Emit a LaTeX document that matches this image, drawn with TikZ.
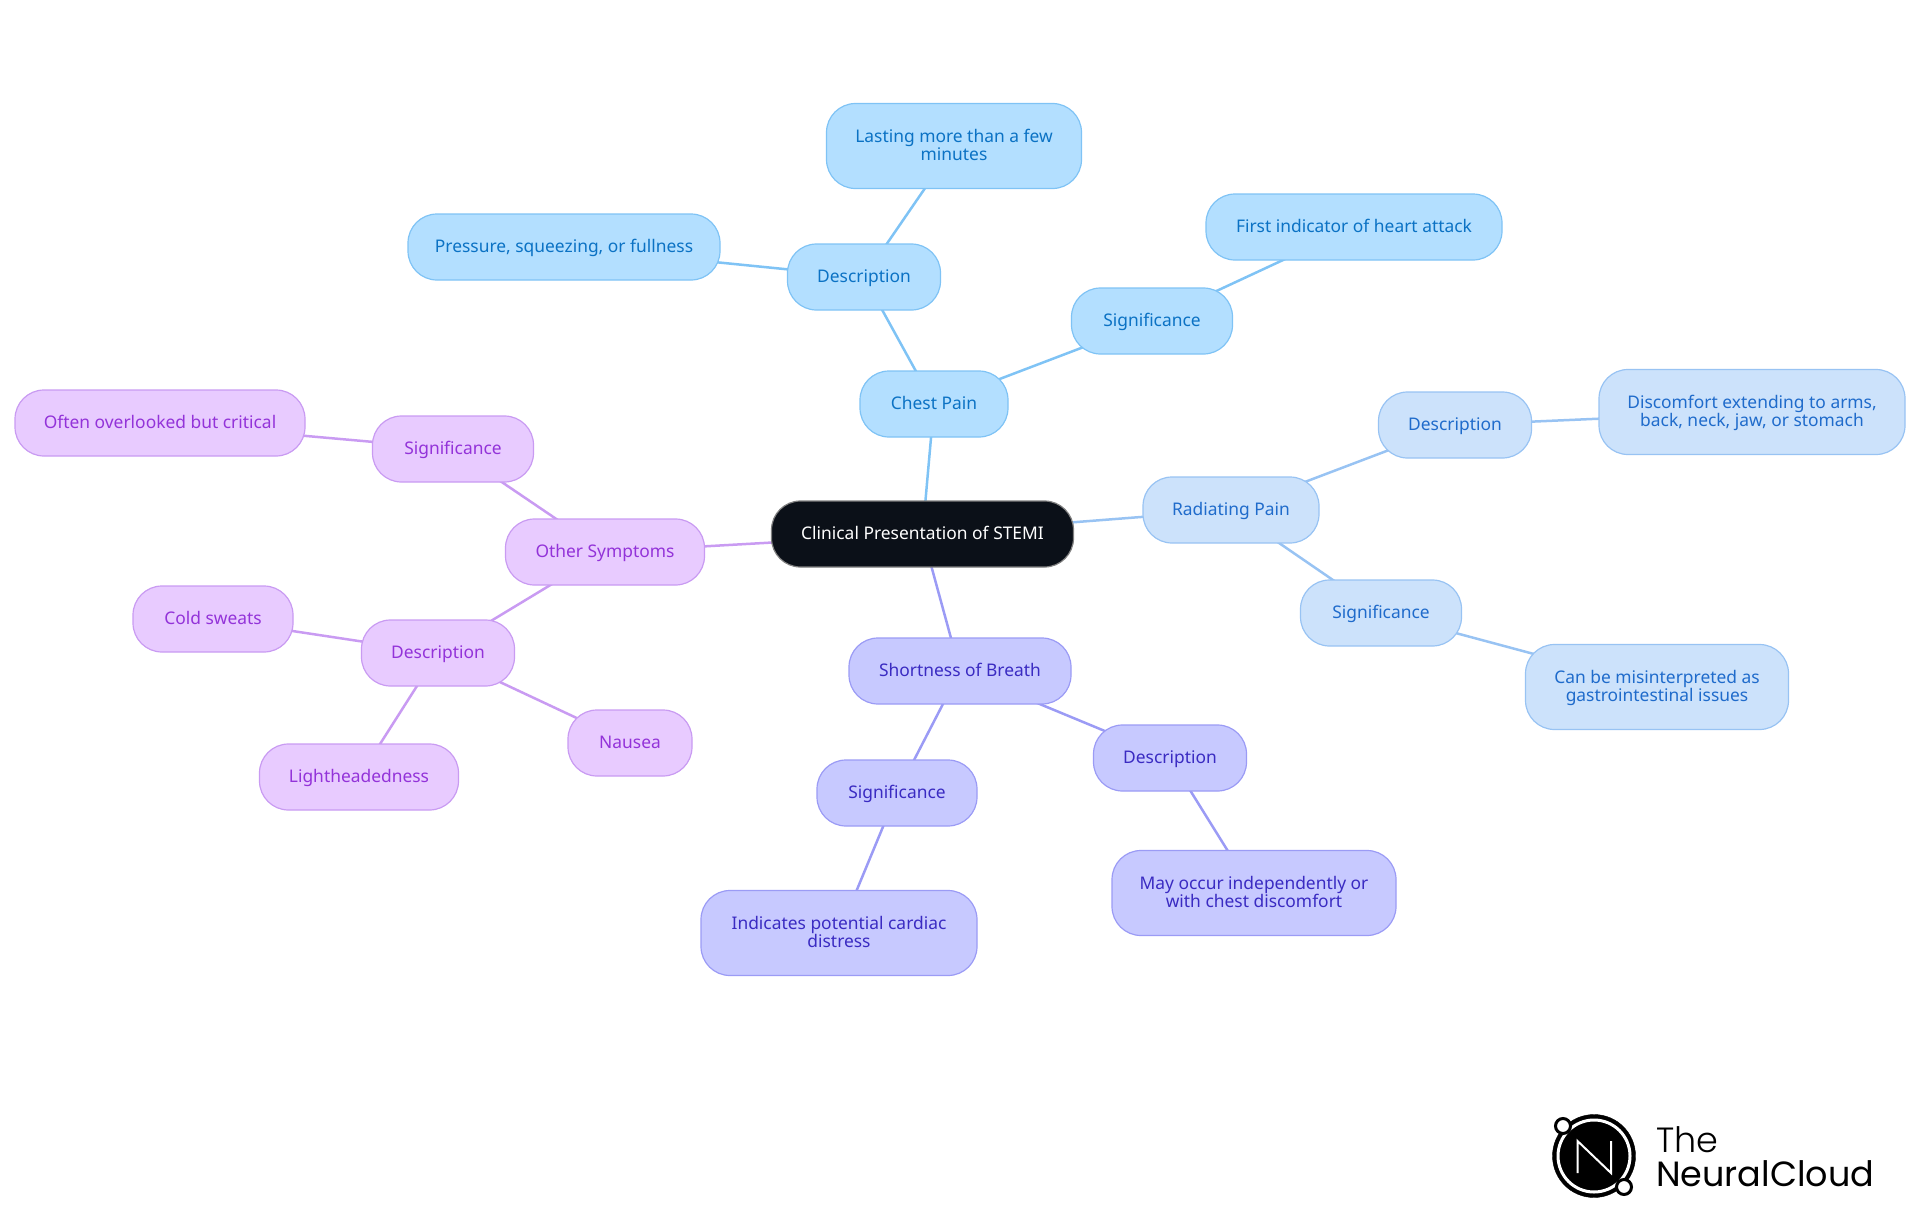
\documentclass[tikz,border=0pt]{standalone}
\usepackage{fontspec}
\setmainfont{Noto Sans}
\newfontfamily\logofont{Poppins}
\newfontfamily\logolight{Poppins Light}
\usetikzlibrary{backgrounds}
\definecolor{chestfill}{HTML}{B3DFFF}
\definecolor{chestline}{HTML}{7FC3F5}
\definecolor{chesttext}{HTML}{0B72C4}
\definecolor{radfill}{HTML}{CCE2FB}
\definecolor{radline}{HTML}{98C3F3}
\definecolor{radtext}{HTML}{1F6BCB}
\definecolor{breathfill}{HTML}{C7C9FF}
\definecolor{breathline}{HTML}{9B9BF5}
\definecolor{breathtext}{HTML}{3A2BC2}
\definecolor{otherfill}{HTML}{E8CBFF}
\definecolor{otherline}{HTML}{C99BF2}
\definecolor{othertext}{HTML}{9333D9}
\definecolor{rootfill}{HTML}{0B1018}
\begin{document}
\begin{tikzpicture}[x=1pt,y=-1pt]
	\tikzset{mapbox/.style={rounded corners=29pt,line width=1.2pt,minimum height=66pt,inner sep=0pt,align=center,font=\fontsize{17.4}{18.6}\selectfont},
		onebox/.style={text height=14.2pt,text depth=2.8pt},
		chestbox/.style={mapbox,draw=chestline,fill=chestfill,text=chesttext},
		radbox/.style={mapbox,draw=radline,fill=radfill,text=radtext},
		breathbox/.style={mapbox,draw=breathline,fill=breathfill,text=breathtext},
		otherbox/.style={mapbox,draw=otherline,fill=otherfill,text=othertext},
		tall/.style={minimum height=85pt,text depth=2.5pt}}
	\useasboundingbox (0,0) rectangle (1920,1215);
	\node[mapbox,onebox,draw=gray,fill=rootfill,text=white,minimum width=302pt] (root) at (922.5,534) {Clinical Presentation of STEMI};

	\node[chestbox,onebox,minimum width=148pt] (chest) at (934,404) {Chest Pain};
	\node[chestbox,onebox,minimum width=153pt] (chestdesc) at (864,277) {Description};
	\node[chestbox,tall,minimum width=255pt] (lasting) at (954,146) {Lasting more than a few\\minutes};
	\node[chestbox,onebox,minimum width=312pt] (pressure) at (564,247) {Pressure, squeezing, or fullness};
	\node[chestbox,onebox,minimum width=161pt] (chestsig) at (1152,321) {Significance};
	\node[chestbox,onebox,minimum width=296pt] (first) at (1354,227) {First indicator of heart attack};

	\node[radbox,onebox,minimum width=176pt] (rad) at (1231,510) {Radiating Pain};
	\node[radbox,onebox,minimum width=153pt] (raddesc) at (1455,425) {Description};
	\node[radbox,tall,minimum width=306pt] (discomfort) at (1752,412) {Discomfort extending to arms,\\back, neck, jaw, or stomach};
	\node[radbox,onebox,minimum width=161pt] (radsig) at (1381,613) {Significance};
	\node[radbox,tall,minimum width=263pt] (misread) at (1657,687) {Can be misinterpreted as\\gastrointestinal issues};

	\node[breathbox,onebox,minimum width=222pt] (breath) at (960,671) {Shortness of Breath};
	\node[breathbox,onebox,minimum width=153pt] (breathdesc) at (1170,758) {Description};
	\node[breathbox,tall,minimum width=284pt] (mayoccur) at (1254,893) {May occur independently or\\with chest discomfort};
	\node[breathbox,onebox,minimum width=160pt] (breathsig) at (897,793) {Significance};
	\node[breathbox,tall,minimum width=276pt] (distress) at (839,933) {Indicates potential cardiac\\distress};

	\node[otherbox,onebox,minimum width=199pt] (other) at (605,552) {Other Symptoms};
	\node[otherbox,onebox,minimum width=161pt] (othersig) at (453,449) {Significance};
	\node[otherbox,onebox,minimum width=290pt] (often) at (160,423) {Often overlooked but critical};
	\node[otherbox,onebox,minimum width=153pt] (otherdesc) at (438,653) {Description};
	\node[otherbox,onebox,minimum width=160pt] (cold) at (213,619) {Cold sweats};
	\node[otherbox,onebox,minimum width=199pt] (light) at (359,777) {Lightheadedness};
	\node[otherbox,onebox,minimum width=124pt] (nausea) at (630,743) {Nausea};

	\begin{scope}[on background layer]
		\foreach \from/\to/\col in {root/chest/chestline,chest/chestdesc/chestline,chestdesc/lasting/chestline,chestdesc/pressure/chestline,chest/chestsig/chestline,chestsig/first/chestline,
			root/rad/radline,rad/raddesc/radline,raddesc/discomfort/radline,rad/radsig/radline,radsig/misread/radline,
			root/breath/breathline,breath/breathdesc/breathline,breathdesc/mayoccur/breathline,breath/breathsig/breathline,breathsig/distress/breathline,
			root/other/otherline,other/othersig/otherline,othersig/often/otherline,other/otherdesc/otherline,otherdesc/cold/otherline,otherdesc/light/otherline,otherdesc/nausea/otherline}
			\draw[\col,line width=2.5pt] (\from.center) -- (\to.center);
	\end{scope}

	\filldraw[black] (1594,1156) circle(41.5);
	\draw[white,line width=3pt] (1594,1156) circle(36);
	\draw[white,line width=2pt,line join=miter] (1577.5,1173)--(1577.5,1141)--(1611,1173)--(1611,1141);
	\filldraw[fill=white,draw=black,line width=3pt] (1563,1126) circle(7.5);
	\filldraw[fill=white,draw=black,line width=3pt] (1624,1187) circle(7.5);
	\node[anchor=base west,inner sep=0pt,font=\logolight\fontsize{35}{35}\selectfont] (logothe) at (1656,1152) {The};
	\node[anchor=base west,inner sep=0pt,font=\logofont\fontsize{35}{35}\selectfont] (logoname) at (1656,1186) {NeuralCloud};
\end{tikzpicture}
\end{document}
